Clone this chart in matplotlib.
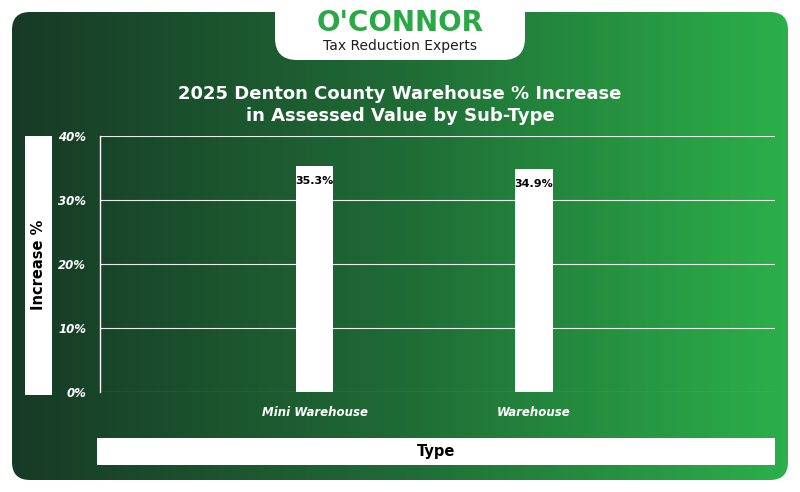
import numpy as np
import matplotlib.pyplot as plt
from matplotlib.patches import FancyBboxPatch
from matplotlib.colors import LinearSegmentedColormap

categories = ["Mini Warehouse", "Warehouse"]
values = [35.3, 34.9]
yticks = [0, 10, 20, 30, 40]

W, H = 800, 492
fig = plt.figure(figsize=(W / 100, H / 100), dpi=100)
fig.patch.set_facecolor("white")

# background gradient panel
bg = fig.add_axes([0, 0, 1, 1])
bg.set_xlim(0, W)
bg.set_ylim(H, 0)
bg.axis("off")
cmap = LinearSegmentedColormap.from_list("g", ["#173a26", "#1f6b35", "#2bb04a"])
grad = np.tile(np.linspace(0, 1, 256), (2, 1))
im = bg.imshow(grad, cmap=cmap, extent=[12, 788, 480, 12], aspect="auto", zorder=0)
panel = FancyBboxPatch((12, 12), 776, 468, boxstyle="round,pad=0,rounding_size=18",
                       transform=bg.transData, facecolor="none", edgecolor="none")
bg.add_patch(panel)
im.set_clip_path(panel)

# logo tab
tab = FancyBboxPatch((275, -30), 250, 90, boxstyle="round,pad=0,rounding_size=22",
                     facecolor="white", edgecolor="none", zorder=2)
bg.add_patch(tab)
bg.text(400, 23, "O'CONNOR", ha="center", va="center", fontsize=20, fontweight="bold",
        color="#2aa845", zorder=3)
bg.text(400, 46, "Tax Reduction Experts", ha="center", va="center", fontsize=10,
        color="#1d1d1d", zorder=3)

bg.text(400, 105, "2025 Denton County Warehouse % Increase\nin Assessed Value by Sub-Type",
        ha="center", va="center", fontsize=13, fontweight="bold", color="white",
        linespacing=1.35)

# axis label boxes
bg.add_patch(plt.Rectangle((25, 136), 27, 259, facecolor="white", edgecolor="none"))
bg.text(38.5, 265, "Increase %", rotation=90, ha="center", va="center", fontsize=10.5,
        fontweight="bold", color="black")
bg.add_patch(plt.Rectangle((97, 438), 678, 27, facecolor="white", edgecolor="none"))
bg.text(436, 451.5, "Type", ha="center", va="center", fontsize=10.5, fontweight="bold",
        color="black")

# chart
ax = fig.add_axes([100 / W, 1 - 392 / H, 675 / W, 256 / H])
ax.patch.set_alpha(0)
x = np.arange(len(categories))
ax.bar(x, values, width=0.17, color="white", zorder=3)
for xi, v in zip(x, values):
    ax.text(xi, v - 1.6, f"{v}%", ha="center", va="top", fontsize=8,
            fontweight="bold", color="black", zorder=4)
ax.set_xlim(-0.98, 2.1)
ax.set_ylim(0, 40)
ax.set_yticks(yticks)
ax.set_yticklabels([f"{t}%" for t in yticks], color="white", fontsize=8.5,
                   fontweight="bold", fontstyle="italic")
ax.set_xticks(x)
ax.set_xticklabels(categories, color="white", fontsize=8.5, fontweight="bold",
                   fontstyle="italic")
ax.grid(axis="y", color="white", linewidth=0.8, alpha=0.9)
ax.tick_params(length=0, pad=10)
for s in ["top", "right", "bottom"]:
    ax.spines[s].set_visible(False)
ax.spines["left"].set_color("white")
ax.spines["left"].set_linewidth(1)

fig.savefig("out.png", dpi=100)
